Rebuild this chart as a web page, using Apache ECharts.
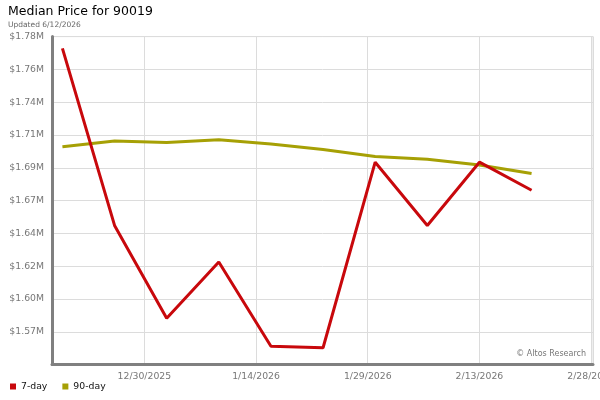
<!DOCTYPE html>
<html>
<head>
<meta charset="utf-8">
<script src="https://cdn.jsdelivr.net/npm/echarts@6/dist/echarts.min.js"></script>
<style>html,body{margin:0;padding:0;background:#fff}#c{width:600px;height:400px}</style>
</head>
<body>
<div id="c"></div>
<script>
// ---- data ----
const dates = ['2025-12-19','2025-12-26','2026-01-02','2026-01-09','2026-01-16','2026-01-23','2026-01-30','2026-02-06','2026-02-13','2026-02-20'];
const sevenDay = [1775000, 1649000, 1583000, 1623000, 1563000, 1562000, 1694000, 1649000, 1694000, 1674000];
const ninetyDay = [1705000, 1709000, 1708000, 1710000, 1707000, 1703000, 1698000, 1696000, 1692000, 1686000];
const seriesNames = ['7-day', '90-day'];
const xTickDates = ['2025-12-30','2026-01-14','2026-01-29','2026-02-13','2026-02-28'];
const titleText = 'Median Price for 90019';
const subText = 'Updated 6/12/2026';

// ---- helpers ----
const DAY = 86400000;
function utc(s){ const p = s.split('-').map(Number); return Date.UTC(p[0], p[1]-1, p[2]); }
const base = utc(xTickDates[0]);
const dayOf = s => (utc(s) - base) / DAY;
const tickSet = xTickDates.map(dayOf);
function fmtDay(v){
  const d = new Date(base + Math.round(v) * DAY);
  return (d.getUTCMonth()+1) + '/' + d.getUTCDate() + '/' + d.getUTCFullYear();
}
const s1 = dates.map((d,i)=>[dayOf(d), sevenDay[i]]);
const s2 = dates.map((d,i)=>[dayOf(d), ninetyDay[i]]);

const font = 'DejaVu Sans';
const chart = echarts.init(document.getElementById('c'), null, {renderer:'canvas'});
const yMin = 1550000, yStep = 70000/3;
chart.setOption({
  animation: false,
  textStyle: {fontFamily: font},
  title: [
    {text: titleText, subtext: subText, left: 3, top: 0, itemGap: 3,
     textStyle: {fontFamily: font, fontSize: 12.5, fontWeight: 'normal', color: '#000'},
     subtextStyle: {fontFamily: font, fontSize: 7.5, color: '#666'}},
    {text: '© Altos Research', right: 9, bottom: 37,
     textStyle: {fontFamily: font, fontSize: 8, fontWeight: 'normal', color: '#777'}}
  ],
  legend: {
    left: 5, top: 377, icon: 'rect', itemWidth: 6, itemHeight: 6, itemGap: 15,
    textStyle: {fontFamily: font, fontSize: 9.3, color: '#111'},
    data: seriesNames
  },
  grid: {left: 52, right: 7, top: 36.6, bottom: 35.4, show: true, borderColor: '#dcdcdc', borderWidth: 1,
         containLabel: false, outerBoundsMode: 'none'},
  xAxis: {
    type: 'value', min: -12.4, max: 60.25, minInterval: 15, maxInterval: 15,
    axisLine: {show: true, onZero: false, lineStyle: {color: '#808080', width: 3}},
    axisTick: {show: false},
    splitLine: {show: true, lineStyle: {color: '#dcdcdc', width: 1}},
    axisLabel: {
      showMinLabel: false, margin: 7, fontFamily: font, fontSize: 9.3, color: '#777',
      formatter: v => tickSet.some(t => Math.abs(t - v) < 1e-6) ? fmtDay(v) : ''
    }
  },
  yAxis: {
    type: 'value', min: yMin, max: yMin + 10*yStep, interval: yStep,
    axisLine: {show: true, onZero: false, lineStyle: {color: '#808080', width: 3}},
    axisTick: {show: false},
    splitLine: {show: true, lineStyle: {color: '#dcdcdc', width: 1}},
    axisLabel: {
      showMinLabel: false, margin: 8, fontFamily: font, fontSize: 9.3, color: '#777',
      formatter: v => '$' + (v/1e6).toFixed(2) + 'M'
    }
  },
  series: [
    {name: seriesNames[0], type: 'line', data: s1, showSymbol: false, symbol: 'none',
     lineStyle: {color: '#c8080c', width: 3}, itemStyle: {color: '#c8080c'}, z: 3},
    {name: seriesNames[1], type: 'line', data: s2, showSymbol: false, symbol: 'none',
     lineStyle: {color: '#a6a005', width: 3}, itemStyle: {color: '#a6a005'}, z: 2}
  ]
});
</script>
</body>
</html>
